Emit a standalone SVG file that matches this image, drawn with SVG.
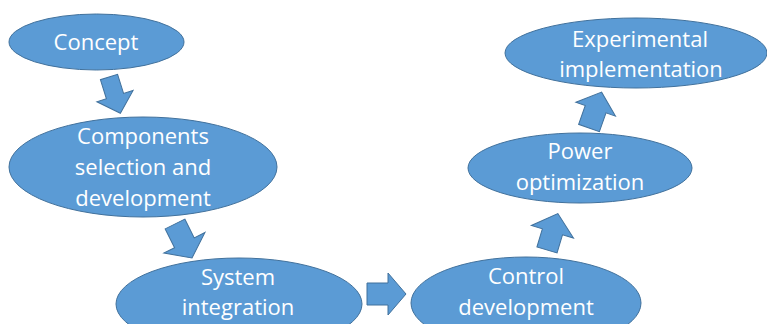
<svg xmlns="http://www.w3.org/2000/svg" width="767" height="324" viewBox="0 0 767 324">
<style>
.n{fill:#5B9BD5;stroke:#41719C;stroke-width:1}
.a{fill:#5B9BD5;stroke:#41719C;stroke-width:1;stroke-linejoin:miter}
.t{fill:#ffffff;font-family:"Open Sans","Liberation Sans",sans-serif;font-size:22px;text-anchor:middle}
</style>
<rect width="767" height="324" fill="#ffffff"/>
<g id="concept">
<ellipse class="n" cx="96.5" cy="42" rx="87.5" ry="28"/>
<text class="t" x="96" y="50">Concept</text>
</g>
<g id="components">
<ellipse class="n" cx="143" cy="167" rx="134" ry="50"/>
<text class="t" x="143" y="144">Components</text>
<text class="t" x="143" y="175">selection and</text>
<text class="t" x="143" y="206">development</text>
</g>
<g id="system">
<ellipse class="n" cx="239" cy="304" rx="123" ry="46"/>
<text class="t" x="238" y="285">System</text>
<text class="t" x="238" y="315">integration</text>
</g>
<g id="control">
<ellipse class="n" cx="526" cy="303" rx="115" ry="46"/>
<text class="t" x="526" y="284">Control</text>
<text class="t" x="526" y="315">development</text>
</g>
<g id="power">
<ellipse class="n" cx="580" cy="168" rx="112" ry="35"/>
<text class="t" x="580" y="159">Power</text>
<text class="t" x="580" y="190">optimization</text>
</g>
<g id="experimental">
<ellipse class="n" cx="636" cy="53" rx="131" ry="35"/>
<text class="t" x="640" y="47">Experimental</text>
<text class="t" x="641" y="77">implementation</text>
</g>
<g id="connectors">
<polygon class="a" transform="translate(109,77) rotate(72.6)" points="0,-9 20,-9 20,-19 38,0 20,19 20,9 0,9"/>
<polygon class="a" transform="translate(175,224) rotate(63.4)" points="0,-11 21,-11 21,-23 38,0 21,23 21,11 0,11"/>
<polygon class="a" transform="translate(367,294)" points="0,-11 21,-11 21,-21 39,0 21,21 21,11 0,11"/>
<polygon class="a" transform="translate(547,250) rotate(-73.4)" points="0,-10.5 19,-10.5 19,-22 38,0 19,22 19,10.5 0,10.5"/>
<polygon class="a" transform="translate(589,128) rotate(-70.6)" points="0,-11 20,-11 20,-21 38,0 20,21 20,11 0,11"/>
</g>
</svg>
